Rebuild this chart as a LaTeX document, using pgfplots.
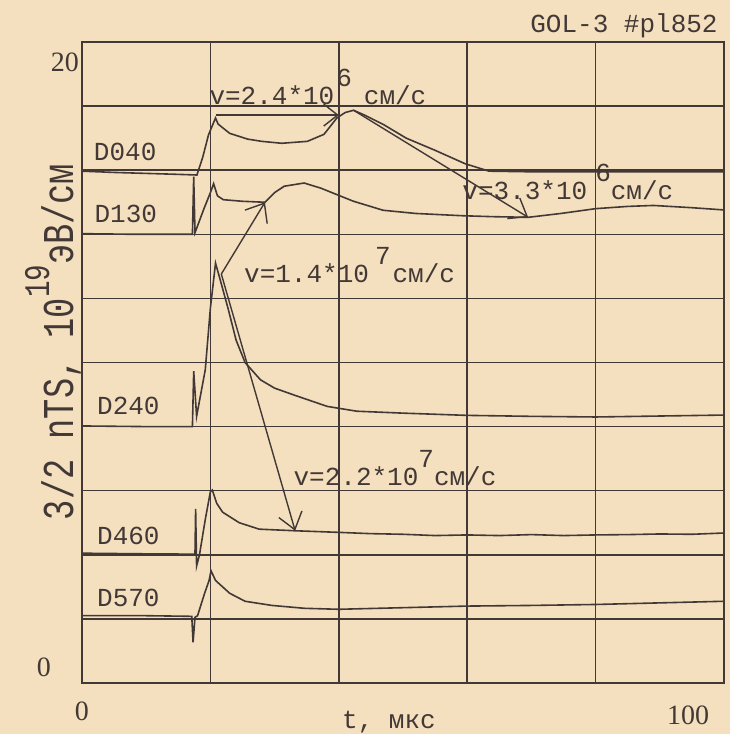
\documentclass[border=0pt]{standalone}
\usepackage{fontspec}
\setmainfont{Liberation Mono}
\newfontfamily\numfont{Liberation Serif}
\usepackage{pgfplots}
\pgfplotsset{compat=1.18}
\usetikzlibrary{arrows.meta}

\definecolor{paper}{RGB}{244,224,190}
\definecolor{ink}{RGB}{66,56,54}
\newcommand\sz{\fontsize{13}{15}\selectfont}
\newcommand\up[1]{\raisebox{9pt}{#1}}

\begin{document}
\begin{tikzpicture}
\useasboundingbox (-41pt,-25.5pt) rectangle (324pt,341.5pt);
\fill[paper] (-41pt,-25.5pt) rectangle (324pt,341.5pt);

\begin{axis}[
    at={(0,0)}, anchor=south west,
    scale only axis,
    width=321pt, height=320.5pt,
    xmin=0, xmax=100, ymin=0, ymax=20,
    clip=false,
    axis line style={ink, line width=0.9pt},
    grid=major,
    major grid style={ink, line width=0.75pt},
    major tick length=0pt,
    xtick={0,20,...,100},
    xticklabels={0,{},{},{},{},{}},
    ytick={0,2,...,20},
    yticklabels={0,{},{},{},{},{},{},{},{},{},{}},
    extra x ticks={100},
    extra x tick labels={100},
    extra x tick style={grid=none, xticklabel style={xshift=-18pt, yshift=-2pt}},
    extra y ticks={20},
    extra y tick labels={20},
    extra y tick style={grid=none, yticklabel style={xshift=14pt, yshift=-18pt}},
    ticklabel style={font=\numfont\fontsize{14}{14}\selectfont, text=ink},
    xticklabel style={yshift=-6pt},
    yticklabel style={xshift=-12pt, yshift=8pt},
]

% D040
\addplot[ink, line width=0.8pt] coordinates {
 (0,15.97) (5,15.93) (10,15.9) (15,15.87) (17.9,15.85) (18.8,16.4) (19.7,17.1)
 (20.8,17.63) (21.2,17.44) (23,17.15) (25.8,16.97) (28,16.9) (31.1,16.84)
 (35.1,16.9) (37.7,17.12) (39.7,17.63) (41,17.8) (42.3,17.87) (44,17.72)
 (47,17.42) (50.5,17.0) (55,16.62) (59.7,16.2) (63.4,15.97) (70,15.95)
 (80,15.95) (90,15.95) (100,15.95)
};
% D130
\addplot[ink, line width=0.8pt] coordinates {
 (0,14.02) (8,14.0) (17.2,14.0) (17.4,15.8) (17.6,14.05) (19.0,14.8) (20.0,15.3)
 (20.5,15.58) (21.1,15.2) (22,15.08) (25,15.03) (28.5,15.0) (30,15.3) (31.5,15.5)
 (34.6,15.6) (37.2,15.44) (40.3,15.19) (42.3,15.03) (46.9,14.75) (52,14.65)
 (59.2,14.58) (64,14.55) (69.5,14.53) (74.6,14.65) (80,14.8) (85,14.87)
 (89,14.9) (95,14.83) (100,14.76)
};
% D240
\addplot[ink, line width=0.8pt] coordinates {
 (0,8.02) (10,8.0) (17.2,8.0) (17.4,9.73) (17.85,8.32) (19.2,9.77) (20,11.7)
 (20.8,13.1) (21.5,12.6) (22.8,11.65) (24,10.7) (25.4,10.0) (27.8,9.46)
 (30,9.2) (33.1,8.98) (38.2,8.63) (42.8,8.48) (50,8.42) (60,8.35) (70,8.32)
 (80,8.3) (90,8.33) (100,8.36)
};
% D460
\addplot[ink, line width=0.8pt] coordinates {
 (0,4.05) (10,4.03) (17.6,4.02) (17.7,5.43) (17.85,3.65) (18.3,4.0) (19.2,5.1)
 (20,5.97) (20.3,6.02) (21.0,5.6) (21.9,5.33) (24.5,5.0) (27.6,4.8) (33.2,4.75)
 (40,4.7) (45,4.66) (50,4.64) (55,4.6) (60,4.62) (65,4.6) (70,4.63) (75,4.6)
 (80,4.62) (85,4.63) (90,4.65) (95,4.64) (100,4.68)
};
% D570
\addplot[ink, line width=0.8pt] coordinates {
 (0,2.1) (10,2.1) (17.1,2.08) (17.3,1.27) (17.6,2.05) (18,2.1) (19.1,2.8)
 (19.8,3.2) (20.1,3.5) (20.8,3.2) (23,2.8) (25.4,2.55) (29.6,2.42) (34.7,2.33)
 (40,2.3) (50,2.35) (60,2.4) (70,2.42) (80,2.45) (90,2.5) (100,2.55)
};

% velocity arrows
\draw[ink, line width=0.7pt, -{Straight Barb[length=7pt,width=11pt]}] (axis cs:20.8,17.72) -- (axis cs:40,17.72);
\draw[ink, line width=0.7pt, -{Straight Barb[length=8pt,width=12pt]}] (axis cs:42.3,17.87) -- (axis cs:69.5,14.53);
\draw[ink, line width=0.7pt, -{Straight Barb[length=8pt,width=13pt]}] (axis cs:21.7,12.76) -- (axis cs:28.5,15.0);
\draw[ink, line width=0.7pt, -{Straight Barb[length=8pt,width=12pt]}] (axis cs:21.7,12.76) -- (axis cs:33.2,4.75);

% channel names
\begin{scope}[every node/.style={anchor=base west, inner sep=0pt, text=ink, font=\sz}]
\node at (axis cs:1.8,16.3) {D040};
\node at (axis cs:1.9,14.38) {D130};
\node at (axis cs:2.3,8.38) {D240};
\node at (axis cs:2.3,4.31) {D460};
\node at (axis cs:2.3,2.38) {D570};
\node at (axis cs:19.8,18.05) {v=2.4*10\hspace{1pt}\up{6}\hspace{6pt}см/с};
\node at (axis cs:25.2,12.5) {v=1.4*10\hspace{3pt}\up{7}\hspace{1pt}см/с};
\node at (axis cs:59.2,15.09) {v=3.3*10\hspace{4pt}\up{6}см/с};
\node at (axis cs:32.9,6.15) {v=2.2*10\up{7}см/с};
\end{scope}
\end{axis}

\node[anchor=base east, inner sep=0pt, text=ink, font=\sz] at (318pt,325pt) {GOL-3 \#pl852};
\node[anchor=base, inner sep=0pt, text=ink, font=\sz] at (153.5pt,-23pt) {t, мкс};
\node[rotate=90, anchor=center, inner sep=0pt, text=ink] at (-14.5pt,170.5pt)
  {\scalebox{0.765}[1]{\fontsize{22}{22}\selectfont 3/2 nTS, 10\raisebox{0.55em}{\fontsize{18}{18}\selectfont 19}эВ/см}};
\end{tikzpicture}
\end{document}
